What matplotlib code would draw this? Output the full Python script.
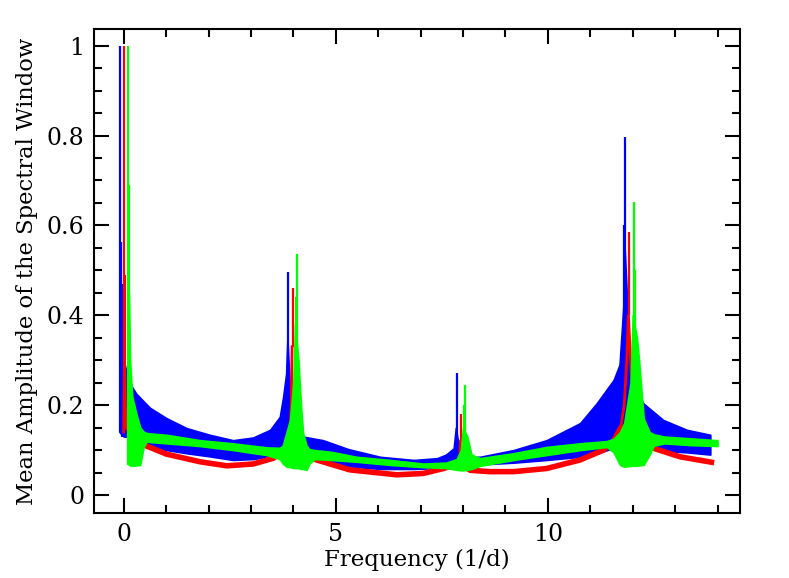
import matplotlib
matplotlib.use("Agg")
import matplotlib.pyplot as plt
from matplotlib.ticker import MultipleLocator, FuncFormatter

# ---------------- data ----------------
# Blue series: band (upper / lower envelope) + spikes
blue_f  = [-0.10, 0.00, 0.10, 0.20, 0.30, 0.62, 1.01, 1.48, 2.03, 2.58, 3.05, 3.45,
           3.68, 3.76, 3.83, 3.86, 3.90, 3.95, 4.05, 4.23, 4.70, 5.30, 6.05, 6.84,
           7.39, 7.60, 7.78, 7.83, 7.88, 7.95, 8.17, 8.40, 9.19, 9.97, 10.76, 11.15,
           11.55, 11.69, 11.78, 11.81, 11.86, 11.92, 12.00, 12.25, 12.72, 13.28, 13.83]
blue_hi = [0.400, 0.300, 0.260, 0.240, 0.225, 0.194, 0.171, 0.149, 0.134, 0.122, 0.128, 0.145,
           0.174, 0.219, 0.270, 0.350, 0.270, 0.200, 0.160, 0.130, 0.122, 0.102, 0.085, 0.078,
           0.082, 0.090, 0.104, 0.150, 0.120, 0.090, 0.085, 0.085, 0.100, 0.122, 0.160, 0.204,
           0.256, 0.290, 0.420, 0.550, 0.450, 0.300, 0.250, 0.204, 0.167, 0.145, 0.134]
blue_lo = [0.140, 0.130, 0.130, 0.125, 0.120, 0.108, 0.100, 0.093, 0.086, 0.078, 0.080, 0.086,
           0.092, 0.100, 0.110, 0.120, 0.110, 0.100, 0.090, 0.085, 0.072, 0.064, 0.058, 0.058,
           0.060, 0.062, 0.068, 0.072, 0.070, 0.066, 0.066, 0.068, 0.072, 0.078, 0.085, 0.092,
           0.105, 0.125, 0.140, 0.150, 0.150, 0.130, 0.120, 0.105, 0.098, 0.095, 0.090]
blue_peak_f = [-0.09, -0.07, -0.05, 3.88, 7.85, 11.83, 11.80, 11.85]
blue_peak_a = [1.000, 0.564, 0.470, 0.497, 0.271, 0.796, 0.600, 0.390]

# Red series: smooth thick curve, thin shoulders next to the peaks, spikes
red_f = [0.06, 0.10, 0.20, 0.35, 0.54, 1.01, 1.80, 2.43, 3.05, 3.53, 3.80, 3.92,
         4.05, 4.30, 4.55, 5.33, 6.44, 7.06, 7.54, 7.77, 7.92, 8.00,
         8.17, 8.64, 9.19, 9.97, 10.76, 11.31, 11.55, 11.72,
         12.10, 12.30, 12.49, 13.12, 13.92]
red_a = [0.150, 0.150, 0.135, 0.120, 0.109, 0.091, 0.074, 0.065, 0.069, 0.082, 0.100, 0.120,
         0.110, 0.088, 0.078, 0.056, 0.045, 0.048, 0.059, 0.066, 0.075, 0.065,
         0.055, 0.052, 0.052, 0.059, 0.078, 0.100, 0.120, 0.150,
         0.140, 0.115, 0.104, 0.085, 0.072]
red_sh_f = [0.00, 0.02, 0.04, 0.06, None, 3.92, 3.95, 3.97, None, 7.92, 7.94, None,
            11.72, 11.80, 11.86, 11.90, 11.95, 12.02, 12.10]
red_sh_a = [0.140, 0.300, 0.200, 0.150, None, 0.120, 0.200, 0.330, None, 0.075, 0.120, None,
            0.150, 0.200, 0.300, 0.400, 0.300, 0.180, 0.140]
red_peak_f = [0.00, 0.02, 3.98, 7.95, 11.92]
red_peak_a = [1.000, 0.490, 0.460, 0.180, 0.585]

# Green series: band (upper / lower envelope) + spikes
green_f  = [0.12, 0.15, 0.20, 0.30, 0.39, 0.47, 0.54, 0.62, 1.01, 1.80, 2.58, 3.37, 3.68,
            3.75, 3.84, 3.92, 4.00, 4.04, 4.12, 4.18, 4.23, 4.31, 4.38, 4.50, 4.90, 5.49,
            6.28, 7.06, 7.60, 7.85, 7.95, 8.00, 8.10, 8.20, 8.40, 9.19, 9.97, 10.76, 11.39,
            11.55, 11.70, 11.80, 11.95, 12.00, 12.10, 12.15, 12.26, 12.40, 12.50, 12.75,
            13.38, 14.00]
green_hi = [0.450, 0.300, 0.220, 0.180, 0.150, 0.141, 0.138, 0.137, 0.134, 0.122, 0.115, 0.106, 0.105,
            0.110, 0.140, 0.167, 0.250, 0.380, 0.300, 0.200, 0.137, 0.110, 0.102, 0.100, 0.096, 0.085,
            0.078, 0.070, 0.072, 0.080, 0.100, 0.150, 0.130, 0.090, 0.082, 0.093, 0.107, 0.115, 0.120,
            0.125, 0.140, 0.160, 0.250, 0.400, 0.350, 0.300, 0.170, 0.140, 0.135, 0.130,
            0.126, 0.122]
green_lo = [0.067, 0.066, 0.065, 0.066, 0.067, 0.107, 0.119, 0.118, 0.115, 0.109, 0.100, 0.089, 0.080,
            0.070, 0.063, 0.062, 0.060, 0.060, 0.060, 0.058, 0.058, 0.056, 0.070, 0.080, 0.078, 0.074,
            0.067, 0.062, 0.060, 0.056, 0.055, 0.055, 0.056, 0.058, 0.065, 0.078, 0.089, 0.100, 0.107,
            0.095, 0.067, 0.063, 0.065, 0.065, 0.065, 0.066, 0.067, 0.090, 0.110, 0.115,
            0.111, 0.109]
green_peak_f = [0.106, 0.115, 4.08, 4.06, 8.05, 8.03, 12.04, 12.06]
green_peak_a = [1.000, 0.690, 0.536, 0.440, 0.245, 0.200, 0.651, 0.500]

x_ticks = [0, 5, 10]
y_ticks = [0, 0.2, 0.4, 0.6, 0.8, 1.0]

BLUE, RED, GREEN = "#0000ff", "#ff0000", "#00ff00"

# ---------------- figure ----------------
plt.rcParams["font.family"] = ["DejaVu Serif"]
fig = plt.figure(figsize=(7.89, 5.78), dpi=100)
ax = fig.add_axes([94 / 789, 1 - 513 / 578, (740 - 94) / 789, (513 - 29) / 578])

def base_at(fs, vals, f0):
    # value of the band/curve nearest to a spike position (for the spike foot)
    pairs = [(abs(a - f0), v) for a, v in zip(fs, vals) if a is not None]
    return min(pairs)[1]

import numpy as np
sh_f = np.array([np.nan if v is None else v for v in red_sh_f], dtype=float)
sh_a = np.array([np.nan if v is None else v for v in red_sh_a], dtype=float)

# blue
ax.fill_between(blue_f, blue_lo, blue_hi, color=BLUE, lw=1.2, edgecolor=BLUE, zorder=2)
ax.vlines(blue_peak_f, [base_at(blue_f, blue_lo, f) for f in blue_peak_f], blue_peak_a,
          color=BLUE, lw=1.6, zorder=2)
# red
ax.plot(red_f, red_a, color=RED, lw=4.0, solid_capstyle="butt", zorder=3)
ax.plot(sh_f, sh_a, color=RED, lw=2.0, zorder=3)
ax.vlines(red_peak_f, [base_at(red_sh_f, red_sh_a, f) for f in red_peak_f], red_peak_a,
          color=RED, lw=1.6, zorder=3)
# green
ax.fill_between(green_f, green_lo, green_hi, color=GREEN, lw=1.2, edgecolor=GREEN, zorder=4)
ax.vlines(green_peak_f, [base_at(green_f, green_lo, f) for f in green_peak_f], green_peak_a,
          color=GREEN, lw=1.6, zorder=4)

# axes
ax.set_xlim(-0.70, 14.53)
ax.set_ylim(-0.04, 1.037)
ax.set_xticks(x_ticks)
ax.set_yticks(y_ticks)
ax.xaxis.set_minor_locator(MultipleLocator(1))
ax.yaxis.set_minor_locator(MultipleLocator(0.05))
ax.yaxis.set_major_formatter(FuncFormatter(lambda v, p: "%g" % round(v, 2)))
ax.xaxis.set_major_formatter(FuncFormatter(lambda v, p: "%g" % v))
ax.tick_params(which="both", direction="in", top=True, right=True, width=1.5, colors="black")
ax.tick_params(which="major", length=11, labelsize=17, pad=7)
ax.tick_params(which="minor", length=6)
for s in ax.spines.values():
    s.set_linewidth(1.5)

ax.set_xlabel("Frequency (1/d)", fontsize=16.5, labelpad=2)
ax.set_ylabel("Mean Amplitude of the Spectral Window", fontsize=16.3, labelpad=6)

fig.savefig("out.png", dpi=100)
